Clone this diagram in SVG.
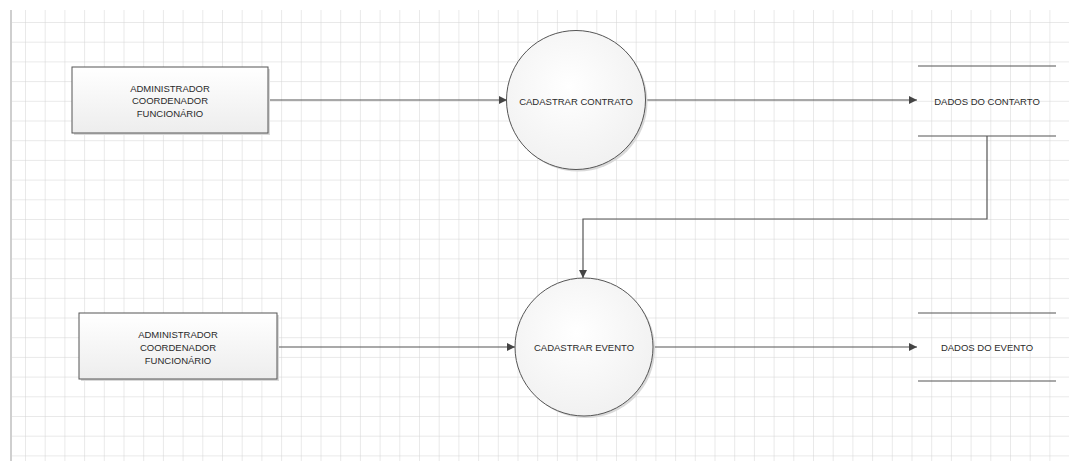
<svg xmlns="http://www.w3.org/2000/svg" width="1069" height="461" viewBox="0 0 1069 461">
  <defs>
    <pattern id="grid" x="25" y="22" width="19.7" height="19.7" patternUnits="userSpaceOnUse">
      <path d="M0 0V19.7M0 0H19.7" fill="none" stroke="#d4d4d4" stroke-width="1"/>
    </pattern>
    <linearGradient id="boxFill" x1="0" y1="0" x2="0" y2="1">
      <stop offset="0" stop-color="#ffffff"/>
      <stop offset="1" stop-color="#ededed"/>
    </linearGradient>
    <radialGradient id="circFill" cx="0.45" cy="0.4" r="0.65">
      <stop offset="0" stop-color="#ffffff"/>
      <stop offset="1" stop-color="#f0f0f0"/>
    </radialGradient>
    <marker id="arrow" viewBox="0 0 10 10" refX="10" refY="5" markerWidth="8" markerHeight="8" markerUnits="userSpaceOnUse" orient="auto">
      <path d="M0 0L10 5L0 10Z" fill="#444"/>
    </marker>
    <style>
      .shape { stroke: #555; stroke-width: 1; }
      .shadow { fill: #d9d9d9; }
      .lbl { font-family: "Liberation Sans", Arial, sans-serif; font-size: 9.5px; fill: #2a2a2a; text-anchor: middle; dominant-baseline: central; }
      .conn { fill: none; stroke: #555; stroke-width: 1.2; }
      .store { stroke: #555; stroke-width: 1.2; }
    </style>
  </defs>

  <rect width="1069" height="461" fill="#ffffff"/>
  <rect x="11" y="10" width="1058" height="451" fill="url(#grid)"/>
  <line x1="11" y1="10" x2="11" y2="461" stroke="#cfcfcf" stroke-width="2"/>

  <g id="connectors">
    <line class="conn" x1="268" y1="100" x2="507" y2="100" marker-end="url(#arrow)"/>
    <line class="conn" x1="646" y1="100" x2="917" y2="100" marker-end="url(#arrow)"/>
    <polyline class="conn" points="987,136 987,219 583,219 583,278" marker-end="url(#arrow)"/>
    <line class="conn" x1="277" y1="347" x2="515" y2="347" marker-end="url(#arrow)"/>
    <line class="conn" x1="653" y1="347" x2="917" y2="347" marker-end="url(#arrow)"/>
  </g>

  <g id="actor1">
    <rect class="shadow" x="74" y="69" width="196" height="66"/>
    <rect class="shape" x="72" y="67" width="196" height="66" fill="url(#boxFill)"/>
    <text class="lbl" x="170" y="88">ADMINISTRADOR</text>
    <text class="lbl" x="170" y="100.5">COORDENADOR</text>
    <text class="lbl" x="170" y="113.5">FUNCIONÁRIO</text>
  </g>

  <g id="process1">
    <circle class="shadow" cx="578" cy="102" r="69.5"/>
    <circle class="shape" cx="576" cy="100" r="69.5" fill="url(#circFill)"/>
    <text class="lbl" x="576" y="101">CADASTRAR CONTRATO</text>
  </g>

  <g id="store1">
    <line class="store" x1="918" y1="66" x2="1056" y2="66"/>
    <line class="store" x1="918" y1="136" x2="1056" y2="136"/>
    <text class="lbl" x="987" y="101">DADOS DO CONTARTO</text>
  </g>

  <g id="actor2">
    <rect class="shadow" x="81" y="315" width="198" height="66"/>
    <rect class="shape" x="79" y="313" width="198" height="66" fill="url(#boxFill)"/>
    <text class="lbl" x="178" y="334">ADMINISTRADOR</text>
    <text class="lbl" x="178" y="347">COORDENADOR</text>
    <text class="lbl" x="178" y="360.5">FUNCIONÁRIO</text>
  </g>

  <g id="process2">
    <circle class="shadow" cx="586" cy="349" r="69"/>
    <circle class="shape" cx="584" cy="347" r="69" fill="url(#circFill)"/>
    <text class="lbl" x="584" y="347">CADASTRAR EVENTO</text>
  </g>

  <g id="store2">
    <line class="store" x1="918" y1="313" x2="1056" y2="313"/>
    <line class="store" x1="918" y1="381" x2="1056" y2="381"/>
    <text class="lbl" x="987" y="347">DADOS DO EVENTO</text>
  </g>
</svg>
